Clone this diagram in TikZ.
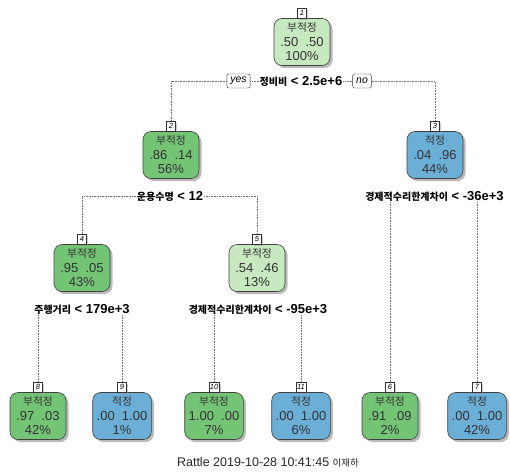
\documentclass[tikz,border=0pt]{standalone}
\usepackage{fontspec}
\setmainfont{Liberation Sans}
\newfontfamily\cjk{Noto Sans CJK KR}
\usetikzlibrary{shadows}
\definecolor{lgreen}{HTML}{C7E9C0}
\definecolor{mgreen}{HTML}{74C476}
\definecolor{mblue}{HTML}{6BAED6}
\newcommand{\kr}[1]{{\cjk\fontsize{10.8}{14.5}\selectfont #1}}
\newcommand{\krs}[1]{{\cjk\bfseries\fontsize{10}{11}\selectfont #1}}
\tikzset{
  tbox/.style={draw=black!75, line width=0.6pt, rounded corners=8pt,
    minimum width=56pt, minimum height=47pt, inner xsep=4pt, inner ysep=1pt,
    align=center, text=black!80, font=\fontsize{13}{14.5}\selectfont,
    drop shadow={shadow xshift=2.5pt, shadow yshift=-2.5pt, fill=black!50, opacity=0.55}},
  numbox/.style={draw=black!80, line width=0.4pt, fill=white, inner sep=1pt,
    minimum width=9pt, minimum height=10pt, font=\fontsize{7.5}{8}\selectfont\itshape,
    anchor=south, drop shadow={shadow xshift=1.5pt, shadow yshift=-1.5pt, fill=black!40, opacity=0.5}},
  splitlab/.style={inner sep=1pt, fill=white, font=\bfseries\fontsize{13}{14}\selectfont, text=black},
  yn/.style={draw=black!80, line width=0.4pt, rounded corners=2pt, fill=white,
    inner xsep=3.5pt, inner ysep=1pt, minimum height=14pt, font=\fontsize{10.5}{11}\selectfont\itshape},
  edge/.style={densely dotted, line width=0.6pt, draw=black!55},
}
\begin{document}
\begin{tikzpicture}[x=1pt, y=-1pt]
\useasboundingbox (0,0) rectangle (510,472);
% nodes
\node[tbox, fill=lgreen] (n1) at (302,42) {\kr{부적정}\\.50\ \ .50\\100\%};
\node[tbox, fill=mgreen] (n2) at (171,155) {\kr{부적정}\\.86\ \ .14\\56\%};
\node[tbox, fill=mblue]  (n3) at (435,155) {\kr{적정}\\.04\ \ .96\\44\%};
\node[tbox, fill=mgreen] (n4) at (82,268) {\kr{부적정}\\.95\ \ .05\\43\%};
\node[tbox, fill=lgreen] (n5) at (257,268) {\kr{부적정}\\.54\ \ .46\\13\%};
\node[tbox, fill=mgreen] (n8) at (38,416) {\kr{부적정}\\.97\ \ .03\\42\%};
\node[tbox, fill=mblue]  (n9) at (122,416) {\kr{적정}\\.00\ \ 1.00\\1\%};
\node[tbox, fill=mgreen] (n10) at (214,416) {\kr{부적정}\\1.00\ \ .00\\7\%};
\node[tbox, fill=mblue]  (n11) at (301,416) {\kr{적정}\\.00\ \ 1.00\\6\%};
\node[tbox, fill=mgreen] (n6) at (390,416) {\kr{부적정}\\.91\ \ .09\\2\%};
\node[tbox, fill=mblue]  (n7) at (477,416) {\kr{적정}\\.00\ \ 1.00\\42\%};
% number labels
\foreach \n/\t in {n1/1,n2/2,n3/3,n4/4,n5/5,n8/8,n9/9,n10/10,n11/11,n6/6,n7/7}
  \node[numbox] (\n lab) at (\n.north) {\t};
% split labels
\node[splitlab] (s1) at (301,81) {\krs{정비비} < 2.5e+6};
\node[yn] (yes) at (238.5,81) {yes};
\node[yn] (no) at (362,81) {no};
\node[splitlab] (s2) at (170,196) {\krs{운용수명} < 12};
\node[splitlab] (s3) at (434.5,196) {\krs{경제적수리한계차이} < -36e+3};
\node[splitlab] (s4) at (82,309) {\krs{주행거리} < 179e+3};
\node[splitlab] (s5) at (258,309) {\krs{경제적수리한계차이} < -95e+3};
% connectors
\draw[edge] (yes.west) -| (n2lab.north);
\draw[edge] (yes.east) -- (s1.west);
\draw[edge] (s1.east) -- (no.west);
\draw[edge] (no.east) -| (n3lab.north);
\draw[edge] (s2.west) -| (n4lab.north);
\draw[edge] (s2.east) -| (n5lab.north);
\draw[edge] (s3.south -| n6lab.north) -- (n6lab.north);
\draw[edge] (s3.south -| n7lab.north) -- (n7lab.north);
\draw[edge] (s4.south -| n8lab.north) -- (n8lab.north);
\draw[edge] (s4.south -| n9lab.north) -- (n9lab.north);
\draw[edge] (s5.south -| n10lab.north) -- (n10lab.north);
\draw[edge] (s5.south -| n11lab.north) -- (n11lab.north);
% footer
\node[inner sep=0pt, anchor=base, font=\fontsize{12.5}{14}\selectfont, text=black!85] (foot) at (268,466)
  {Rattle 2019-10-28 10:41:45 {\cjk\fontsize{9.5}{11}\selectfont 이재하}};
\end{tikzpicture}
\end{document}
